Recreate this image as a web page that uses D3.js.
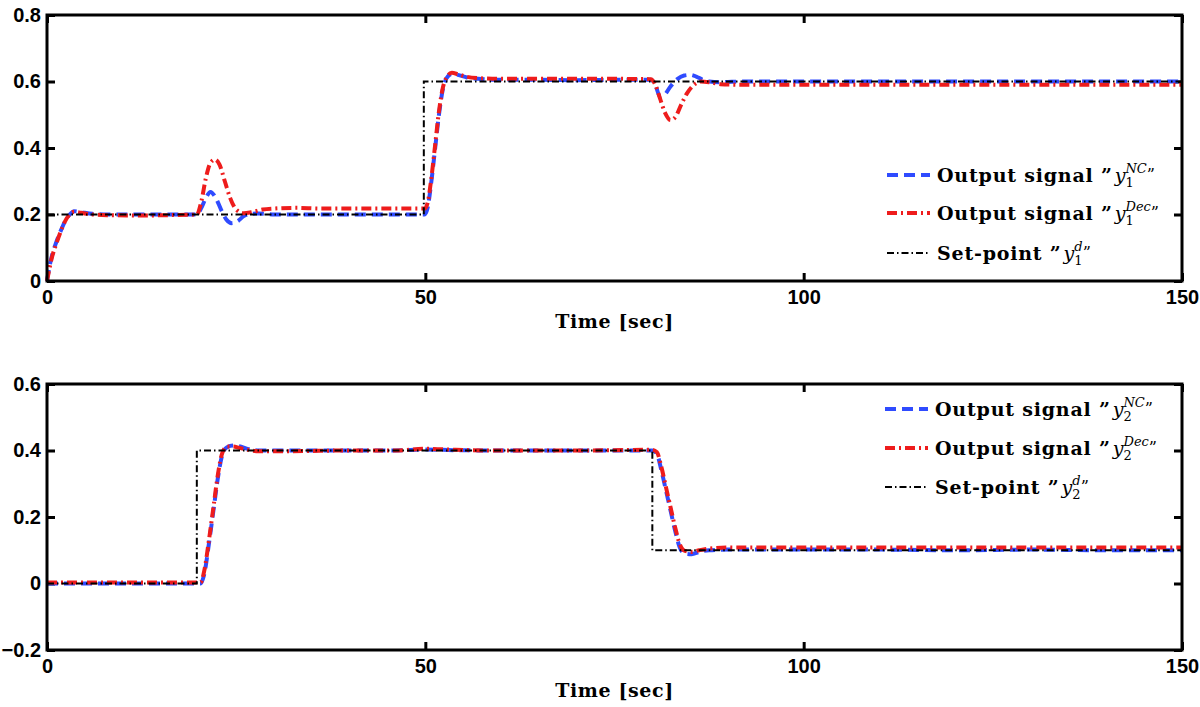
<!DOCTYPE html>
<html>
<head>
<meta charset="utf-8">
<script src="https://d3js.org/d3.v7.min.js"></script>
<style>
  body { margin: 0; background: #fff; }
  .tick text { font-family: 'Liberation Sans', Arial, sans-serif; font-weight: bold; }
</style>
</head>
<body>
<script>
// ---- data ----
const timeTicks = [0, 50, 100, 150]
const y1Ticks = [0, 0.2, 0.4, 0.6, 0.8]
const y2Ticks = [-0.2, 0, 0.2, 0.4, 0.6]

// panel 1 : y1
const y1NcTime = [0, 0.3, 0.7, 1.2, 1.8, 2.4, 3.0, 3.6, 4.5, 6, 8, 12, 16, 19.8, 20.4, 21, 21.6, 22.3, 23, 23.7, 24.4, 25.2, 26, 26.8, 28, 30, 35, 40, 45, 49.9, 50.3, 50.8, 51.3, 51.8, 52.3, 52.8, 53.5, 54.3, 55.5, 57, 60, 65, 70, 75, 79.8, 80.4, 81, 81.6, 82.4, 83.3, 84.2, 85, 85.8, 86.6, 87.5, 89, 92, 100, 110, 120, 130, 140, 150]
const y1NcValue = [0, 0.04, 0.08, 0.115, 0.15, 0.18, 0.2, 0.21, 0.207, 0.202, 0.2, 0.2, 0.2, 0.2, 0.22, 0.25, 0.268, 0.25, 0.215, 0.185, 0.174, 0.18, 0.195, 0.202, 0.203, 0.2, 0.2, 0.2, 0.2, 0.2, 0.22, 0.3, 0.4, 0.5, 0.575, 0.61, 0.623, 0.62, 0.612, 0.608, 0.605, 0.605, 0.604, 0.605, 0.605, 0.59, 0.555, 0.56, 0.585, 0.607, 0.618, 0.62, 0.615, 0.606, 0.6, 0.598, 0.6, 0.6, 0.6, 0.6, 0.6, 0.6, 0.6]

const y1DecTime = [0, 0.3, 0.7, 1.2, 1.8, 2.4, 3.0, 3.6, 4.5, 6, 8, 12, 16, 19.8, 20.4, 21, 21.6, 22.2, 22.8, 23.5, 24.2, 25, 26, 27, 28.5, 30, 33, 36, 40, 45, 49.9, 50.3, 50.8, 51.3, 51.8, 52.3, 52.8, 53.5, 54.3, 55.5, 57, 60, 65, 70, 75, 79.8, 80.4, 81, 81.7, 82.4, 83.1, 83.8, 84.6, 85.5, 86.4, 87.5, 89, 92, 100, 110, 120, 130, 140, 150]
const y1DecValue = [0, 0.035, 0.075, 0.11, 0.148, 0.18, 0.2, 0.208, 0.205, 0.2, 0.198, 0.197, 0.198, 0.2, 0.24, 0.31, 0.355, 0.365, 0.35, 0.3, 0.25, 0.215, 0.204, 0.207, 0.215, 0.218, 0.22, 0.218, 0.218, 0.218, 0.218, 0.235, 0.31, 0.41, 0.51, 0.58, 0.612, 0.626, 0.622, 0.614, 0.61, 0.608, 0.608, 0.608, 0.608, 0.607, 0.59, 0.55, 0.505, 0.484, 0.495, 0.53, 0.565, 0.59, 0.6, 0.598, 0.592, 0.59, 0.59, 0.59, 0.59, 0.59, 0.59, 0.59]

const y1SetTime = [0, 49.8, 49.8, 150]
const y1SetValue = [0.2, 0.2, 0.6, 0.6]

// panel 2 : y2
const y2NcTime = [0, 10, 20.3, 20.8, 21.4, 22, 22.6, 23.2, 23.8, 24.6, 25.4, 26.5, 28, 32, 40, 46, 50, 54, 60, 70, 80, 80.6, 81.2, 81.8, 82.4, 83, 83.6, 84.3, 85.2, 86.2, 87.5, 90, 100, 110, 120, 130, 140, 150]
const y2NcValue = [0, 0, 0, 0.03, 0.12, 0.22, 0.32, 0.39, 0.41, 0.415, 0.413, 0.405, 0.4, 0.4, 0.4, 0.4, 0.403, 0.401, 0.4, 0.4, 0.4, 0.39, 0.34, 0.28, 0.22, 0.16, 0.11, 0.09, 0.088, 0.095, 0.1, 0.102, 0.102, 0.102, 0.1, 0.102, 0.1, 0.1]

const y2DecTime = [0, 10, 20.3, 20.8, 21.4, 22, 22.6, 23.2, 23.8, 24.6, 25.4, 26.5, 28, 32, 40, 46, 50, 54, 60, 70, 80, 80.6, 81.2, 81.8, 82.4, 83, 83.6, 84.3, 85.2, 86.2, 87.5, 90, 100, 110, 120, 130, 140, 150]
const y2DecValue = [0.003, 0.003, 0.003, 0.04, 0.13, 0.23, 0.33, 0.395, 0.412, 0.412, 0.408, 0.402, 0.398, 0.398, 0.4, 0.4, 0.405, 0.402, 0.4, 0.4, 0.402, 0.395, 0.35, 0.29, 0.23, 0.17, 0.12, 0.098, 0.095, 0.1, 0.105, 0.108, 0.108, 0.108, 0.108, 0.108, 0.108, 0.108]

const y2SetTime = [0, 19.8, 19.8, 80, 80, 150]
const y2SetValue = [0, 0, 0.4, 0.4, 0.1, 0.1]

const zip = (ts, vs) => ts.map((t, i) => ({ t: t, v: vs[i] }))

// ---- page ----
const w = 1200
const h = 707

const svg = d3.select('body')
  .append('svg')
  .attr('width', w)
  .attr('height', h)

const serif = "'DejaVu Serif', 'Liberation Serif', serif"

const styles = {
  nc: { color: '#2f4bff', width: 4, dash: '11,6' },
  dec: { color: '#ee1c1c', width: 4, dash: '10,4,2,4' },
  set: { color: '#000', width: 2, dash: '7,3,1.5,3' }
}

function panel(opts) {
  const left = 47
  const right = 1182
  const top = opts.top
  const bottom = opts.top + 266

  const x = d3.scaleLinear().domain([0, 150]).range([left, right])
  const y = d3.scaleLinear().domain(opts.yDomain).range([bottom, top])

  const g = svg.append('g')

  // frame-style axes, ticks pointing inward on all four sides
  const axes = [
    { ax: d3.axisBottom(x).tickValues(timeTicks).tickSize(-8).tickPadding(9).tickFormat(d3.format('d')), tr: `translate(0,${bottom})`, labels: true },
    { ax: d3.axisTop(x).tickValues(timeTicks).tickSize(-8), tr: `translate(0,${top})`, labels: false },
    { ax: d3.axisLeft(y).tickValues(opts.yTicks).tickSize(-8).tickPadding(6).tickFormat(d => d === 0 ? '0' : d3.format('.1f')(d).replace('-', '\u2212')), tr: `translate(${left},0)`, labels: true },
    { ax: d3.axisRight(y).tickValues(opts.yTicks).tickSize(-8), tr: `translate(${right},0)`, labels: false }
  ]
  axes.forEach(a => {
    const ag = g.append('g').attr('transform', a.tr).call(a.ax)
    ag.select('.domain').remove()
    ag.selectAll('line').style('stroke', '#000').style('stroke-width', 3)
    if (a.labels) {
      ag.selectAll('text').style('font-size', '20px').style('fill', '#000')
    } else {
      ag.selectAll('text').remove()
    }
  })

  // lines
  const smooth = d3.line().x(d => x(d.t)).y(d => y(d.v)).curve(d3.curveMonotoneX)
  const straight = d3.line().x(d => x(d.t)).y(d => y(d.v))

  const series = [
    { data: opts.nc, s: styles.nc, gen: smooth },
    { data: opts.dec, s: styles.dec, gen: smooth },
    { data: opts.set, s: styles.set, gen: straight }
  ]
  series.forEach(d => {
    g.append('path')
      .attr('d', d.gen(d.data))
      .style('fill', 'none')
      .style('stroke', d.s.color)
      .style('stroke-width', d.s.width)
      .style('stroke-dasharray', d.s.dash)
  })

  // box
  g.append('rect')
    .attr('x', left)
    .attr('y', top)
    .attr('width', right - left)
    .attr('height', bottom - top)
    .style('fill', 'none')
    .style('stroke', '#000')
    .style('stroke-width', 3)

  // x label
  g.append('text')
    .attr('x', (left + right) / 2)
    .attr('y', bottom + 47)
    .attr('text-anchor', 'middle')
    .style('font-family', serif)
    .style('font-weight', 'bold')
    .style('font-size', '19px')
    .style('letter-spacing', '0.6px')
    .text('Time [sec]')

  // legend (no box)
  const entries = [
    { s: styles.nc, text: 'Output signal ', sup: 'NC' },
    { s: styles.dec, text: 'Output signal ', sup: 'Dec' },
    { s: styles.set, text: 'Set-point ', sup: 'd' }
  ]
  entries.forEach((e, i) => {
    const ly = opts.legendY[i]
    const lx = opts.legendX
    g.append('line')
      .attr('x1', lx).attr('x2', lx + 43)
      .attr('y1', ly).attr('y2', ly)
      .style('stroke', e.s.color)
      .style('stroke-width', e.s.width)
      .style('stroke-dasharray', e.s.dash)

    let cx = lx + 50
    const base = ly + 7
    const t1 = g.append('text')
      .attr('x', cx).attr('y', base)
      .style('font-family', serif).style('font-weight', 'bold').style('font-size', '19px')
      .style('letter-spacing', '0.8px')
      .text(e.text + '\u201d')
    cx += t1.node().getComputedTextLength() + 2
    const t2 = g.append('text')
      .attr('x', cx).attr('y', base)
      .style('font-family', serif).style('font-style', 'italic').style('font-size', '19px')
      .text('y')
    cx += t2.node().getComputedTextLength()
    const t3 = g.append('text')
      .attr('x', cx).attr('y', base + 5)
      .style('font-family', serif).style('font-size', '13px')
      .text(opts.index)
    const t4 = g.append('text')
      .attr('x', cx).attr('y', base - 9)
      .style('font-family', serif).style('font-style', 'italic').style('font-size', '13px')
      .text(e.sup)
    cx += Math.max(t3.node().getComputedTextLength(), t4.node().getComputedTextLength())
    g.append('text')
      .attr('x', cx).attr('y', base - 2)
      .style('font-family', serif).style('font-size', '16px')
      .text('\u201d')
  })
}

panel({
  top: 15,
  yDomain: [0, 0.8],
  yTicks: y1Ticks,
  nc: zip(y1NcTime, y1NcValue),
  dec: zip(y1DecTime, y1DecValue),
  set: zip(y1SetTime, y1SetValue),
  index: '1',
  legendX: 887,
  legendY: [175, 213, 253]
})

panel({
  top: 384,
  yDomain: [-0.2, 0.6],
  yTicks: y2Ticks,
  nc: zip(y2NcTime, y2NcValue),
  dec: zip(y2DecTime, y2DecValue),
  set: zip(y2SetTime, y2SetValue),
  index: '2',
  legendX: 885,
  legendY: [409, 448, 487]
})
</script>
</body>
</html>
